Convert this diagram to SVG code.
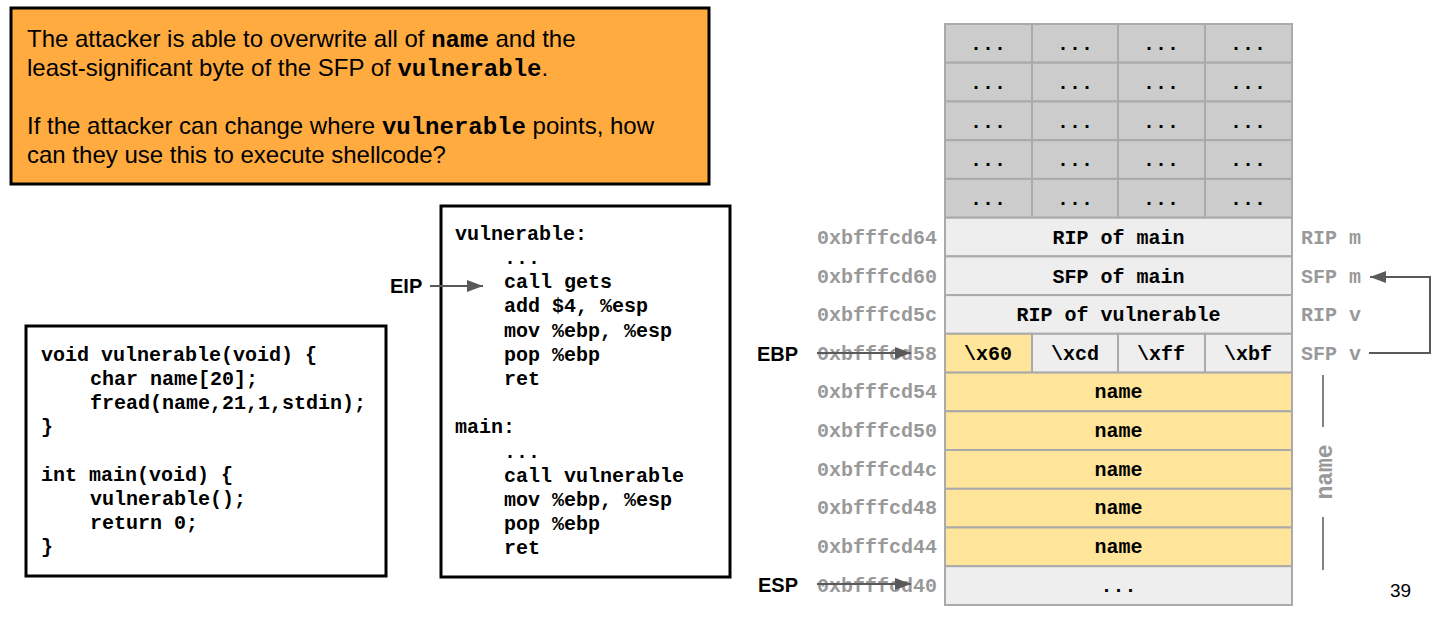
<svg xmlns="http://www.w3.org/2000/svg" width="1441" height="618" viewBox="0 0 1441 618">
  <style>
    .box { fill: #ffffff; stroke: #000000; stroke-width: 3; }
    .note { fill: #ffab40; stroke: #000000; stroke-width: 3; }
    .sans { font-family: "Liberation Sans", Arial, sans-serif; fill: #000000; }
    .mono { font-family: "Liberation Mono", "Courier New", monospace; font-weight: bold; font-size: 20px; fill: #000000; }
    .note-text { font-family: "Liberation Sans", Arial, sans-serif; font-size: 24px; fill: #000000; }
    .note-text .code { font-family: "Liberation Mono", "Courier New", monospace; font-weight: bold; font-size: 24px; }
    .addr { font-family: "Liberation Mono", "Courier New", monospace; font-weight: bold; font-size: 20px; fill: #999999; }
    .reg { font-family: "Liberation Sans", Arial, sans-serif; font-weight: bold; font-size: 20px; fill: #000000; }
    .grey { fill: #cccccc; stroke: #aaaaaa; stroke-width: 2; }
    .light { fill: #eeeeee; stroke: #aaaaaa; stroke-width: 2; }
    .gold { fill: #ffe599; stroke: #aaaaaa; stroke-width: 2; }
    .ctr { text-anchor: middle; }
    .end { text-anchor: end; }
    .conn { fill: none; stroke: #595959; stroke-width: 2; }
  </style>
  <defs>
    <marker id="head" viewBox="0 0 16 12" refX="16" refY="6" markerWidth="16" markerHeight="12" orient="auto" markerUnits="userSpaceOnUse">
      <path d="M0,0 L16,6 L0,12 z" fill="#595959"/>
    </marker>
  </defs>

  <!-- question box -->
  <g id="question">
    <rect class="note" x="11" y="8" width="698" height="176"/>
    <text class="note-text" x="27" y="47">The attacker is able to overwrite all of <tspan class="code">name</tspan> and the</text>
    <text class="note-text" x="27" y="76">least-significant byte of the SFP of <tspan class="code">vulnerable</tspan>.</text>
    <text class="note-text" x="27" y="134">If the attacker can change where <tspan class="code">vulnerable</tspan> points, how</text>
    <text class="note-text" x="27" y="163">can they use this to execute shellcode?</text>
  </g>

  <!-- C source -->
  <g id="c-source">
    <rect class="box" x="26" y="326" width="360" height="250"/>
    <text class="mono" x="41" y="361">void vulnerable(void) {</text>
    <text class="mono" x="90" y="385">char name[20];</text>
    <text class="mono" x="90" y="409">fread(name,21,1,stdin);</text>
    <text class="mono" x="41" y="433">}</text>
    <text class="mono" x="41" y="481">int main(void) {</text>
    <text class="mono" x="90" y="505">vulnerable();</text>
    <text class="mono" x="90" y="529">return 0;</text>
    <text class="mono" x="41" y="553">}</text>
  </g>

  <!-- assembly listing -->
  <g id="assembly">
    <rect class="box" x="441" y="206" width="289" height="371"/>
    <text class="mono" x="455" y="240">vulnerable:</text>
    <text class="mono" x="504" y="264">...</text>
    <text class="mono" x="504" y="288">call gets</text>
    <text class="mono" x="504" y="312">add $4, %esp</text>
    <text class="mono" x="504" y="337">mov %ebp, %esp</text>
    <text class="mono" x="504" y="361">pop %ebp</text>
    <text class="mono" x="504" y="385">ret</text>
    <text class="mono" x="455" y="433">main:</text>
    <text class="mono" x="504" y="458">...</text>
    <text class="mono" x="504" y="482">call vulnerable</text>
    <text class="mono" x="504" y="506">mov %ebp, %esp</text>
    <text class="mono" x="504" y="530">pop %ebp</text>
    <text class="mono" x="504" y="554">ret</text>
  </g>

  <!-- register labels -->
  <g id="eip"><text class="reg" x="390" y="293">EIP</text></g>
  <g id="ebp"><text class="reg end" x="798" y="361">EBP</text></g>
  <g id="esp"><text class="reg end" x="798" y="592">ESP</text></g>

  <!-- stack: unused upper words -->
  <g id="stack-upper">
    <rect class="grey" x="945" y="24" width="87" height="38.7"/>
    <rect class="grey" x="1032" y="24" width="86" height="38.7"/>
    <rect class="grey" x="1118" y="24" width="87" height="38.7"/>
    <rect class="grey" x="1205" y="24" width="87" height="38.7"/>
    <rect class="grey" x="945" y="62.7" width="87" height="38.8"/>
    <rect class="grey" x="1032" y="62.7" width="86" height="38.8"/>
    <rect class="grey" x="1118" y="62.7" width="87" height="38.8"/>
    <rect class="grey" x="1205" y="62.7" width="87" height="38.8"/>
    <rect class="grey" x="945" y="101.5" width="87" height="38.7"/>
    <rect class="grey" x="1032" y="101.5" width="86" height="38.7"/>
    <rect class="grey" x="1118" y="101.5" width="87" height="38.7"/>
    <rect class="grey" x="1205" y="101.5" width="87" height="38.7"/>
    <rect class="grey" x="945" y="140.2" width="87" height="38.7"/>
    <rect class="grey" x="1032" y="140.2" width="86" height="38.7"/>
    <rect class="grey" x="1118" y="140.2" width="87" height="38.7"/>
    <rect class="grey" x="1205" y="140.2" width="87" height="38.7"/>
    <rect class="grey" x="945" y="178.9" width="87" height="38.8"/>
    <rect class="grey" x="1032" y="178.9" width="86" height="38.8"/>
    <rect class="grey" x="1118" y="178.9" width="87" height="38.8"/>
    <rect class="grey" x="1205" y="178.9" width="87" height="38.8"/>
    <g class="mono ctr">
      <text x="988" y="50">...</text><text x="1075" y="50">...</text><text x="1161" y="50">...</text><text x="1248" y="50">...</text>
      <text x="988" y="89">...</text><text x="1075" y="89">...</text><text x="1161" y="89">...</text><text x="1248" y="89">...</text>
      <text x="988" y="128">...</text><text x="1075" y="128">...</text><text x="1161" y="128">...</text><text x="1248" y="128">...</text>
      <text x="988" y="166">...</text><text x="1075" y="166">...</text><text x="1161" y="166">...</text><text x="1248" y="166">...</text>
      <text x="988" y="205">...</text><text x="1075" y="205">...</text><text x="1161" y="205">...</text><text x="1248" y="205">...</text>
    </g>
  </g>

  <!-- stack: frames -->
  <g id="rip-main">
    <rect class="light" x="945" y="217.7" width="347" height="38.7"/>
    <text class="mono ctr" x="1118.5" y="244">RIP of main</text>
    <text class="addr end" x="937" y="244">0xbfffcd64</text>
    <text class="addr" x="1301" y="244">RIP m</text>
  </g>
  <g id="sfp-main">
    <rect class="light" x="945" y="256.4" width="347" height="38.7"/>
    <text class="mono ctr" x="1118.5" y="283">SFP of main</text>
    <text class="addr end" x="937" y="283">0xbfffcd60</text>
    <text class="addr" x="1301" y="283">SFP m</text>
  </g>
  <g id="rip-vulnerable">
    <rect class="light" x="945" y="295.1" width="347" height="38.7"/>
    <text class="mono ctr" x="1118.5" y="321">RIP of vulnerable</text>
    <text class="addr end" x="937" y="321">0xbfffcd5c</text>
    <text class="addr" x="1301" y="321">RIP v</text>
  </g>
  <g id="sfp-vulnerable">
    <rect class="gold" x="945" y="333.8" width="87" height="38.8"/>
    <rect class="light" x="1032" y="333.8" width="86" height="38.8"/>
    <rect class="light" x="1118" y="333.8" width="87" height="38.8"/>
    <rect class="light" x="1205" y="333.8" width="87" height="38.8"/>
    <text class="mono ctr" x="988" y="360">\x60</text>
    <text class="mono ctr" x="1075" y="360">\xcd</text>
    <text class="mono ctr" x="1161" y="360">\xff</text>
    <text class="mono ctr" x="1248" y="360">\xbf</text>
    <text class="addr end" x="937" y="360">0xbfffcd58</text>
    <text class="addr" x="1301" y="360">SFP v</text>
  </g>
  <g id="name-buffer">
    <rect class="gold" x="945" y="372.6" width="347" height="38.7"/>
    <rect class="gold" x="945" y="411.3" width="347" height="38.7"/>
    <rect class="gold" x="945" y="450" width="347" height="38.8"/>
    <rect class="gold" x="945" y="488.8" width="347" height="38.7"/>
    <rect class="gold" x="945" y="527.5" width="347" height="38.7"/>
    <text class="mono ctr" x="1118.5" y="398">name</text>
    <text class="mono ctr" x="1118.5" y="437">name</text>
    <text class="mono ctr" x="1118.5" y="476">name</text>
    <text class="mono ctr" x="1118.5" y="514">name</text>
    <text class="mono ctr" x="1118.5" y="553">name</text>
    <text class="addr end" x="937" y="398">0xbfffcd54</text>
    <text class="addr end" x="937" y="437">0xbfffcd50</text>
    <text class="addr end" x="937" y="476">0xbfffcd4c</text>
    <text class="addr end" x="937" y="514">0xbfffcd48</text>
    <text class="addr end" x="937" y="553">0xbfffcd44</text>
  </g>
  <g id="stack-bottom">
    <rect class="light" x="945" y="566.2" width="347" height="38.8"/>
    <text class="mono ctr" x="1118.5" y="592">...</text>
    <text class="addr end" x="937" y="592">0xbfffcd40</text>
  </g>

  <!-- bracket label for the name buffer -->
  <g id="name-bracket">
    <line x1="1323" y1="375" x2="1323" y2="427" stroke="#595959" stroke-width="1.5"/>
    <line x1="1323" y1="517" x2="1323" y2="570" stroke="#595959" stroke-width="1.5"/>
    <text class="addr ctr" font-size="23" style="font-size:23px" transform="translate(1332,472) rotate(-90)" x="0" y="0">name</text>
  </g>

  <!-- connectors -->
  <g id="connectors">
    <line class="conn" x1="430" y1="286" x2="483" y2="286" marker-end="url(#head)"/>
    <line class="conn" x1="817" y1="353" x2="911" y2="353" marker-end="url(#head)"/>
    <line class="conn" x1="817" y1="584" x2="911" y2="584" marker-end="url(#head)"/>
    <polyline class="conn" points="1369,353 1430,353 1430,277 1370,277" marker-end="url(#head)"/>
  </g>

  <!-- slide number -->
  <g id="page-number">
    <text class="sans" font-size="19" fill="#666666" x="1390" y="597">39</text>
  </g>
</svg>
